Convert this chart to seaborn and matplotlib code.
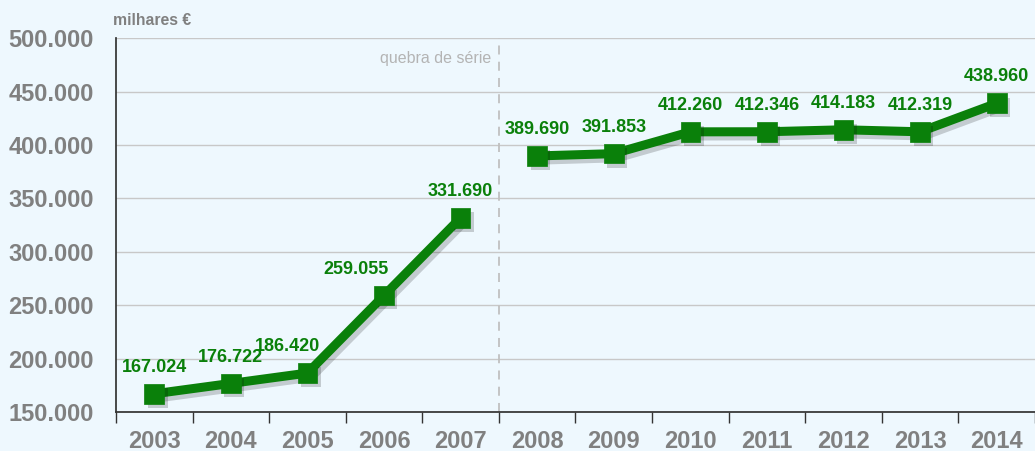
import pandas as pd
import matplotlib.pyplot as plt
import matplotlib.patheffects as pe
from matplotlib.ticker import FixedLocator, FuncFormatter
import seaborn as sns

sns.set_theme(style="white")
plt.rcParams['font.family'] = ['Liberation Sans', 'DejaVu Sans']

# data (milhares de euros)
years = ['2003', '2004', '2005', '2006', '2007', '2008', '2009',
         '2010', '2011', '2012', '2013', '2014']
values = [167.024, 176.722, 186.420, 259.055, 331.690, 389.690, 391.853,
          412.260, 412.346, 414.183, 412.319, 438.960]
series = ['antes'] * 5 + ['depois'] * 7
labels = ['167.024', '176.722', '186.420', '259.055', '331.690', '389.690',
          '391.853', '412.260', '412.346', '414.183', '412.319', '438.960']
yticks = [150000, 200000, 250000, 300000, 350000, 400000, 450000, 500000]

df = pd.DataFrame({'pos': range(len(years)), 'ano': years,
                   'valor': [v * 1000 for v in values], 'serie': series})

green = '#0a800a'
gray = '#808080'
bg = '#eef8fe'

fig = plt.figure(figsize=(10.35, 4.51), dpi=100, facecolor=bg)
ax = fig.add_axes([0.112, 0.0865, 0.888, 0.829])
ax.set_facecolor(bg)

# line with a soft shadow
line_shadow = [pe.SimpleLineShadow(offset=(2.5, -3), shadow_color='black', alpha=0.18),
               pe.Normal()]
sns.lineplot(data=df, x='pos', y='valor', hue='serie', units='serie',
             estimator=None, palette=[green, green], legend=False,
             linewidth=6.5, ax=ax, path_effects=line_shadow)

# square markers
sns.scatterplot(data=df, x='pos', y='valor', color=green, marker='s',
                s=200, edgecolor=green, linewidth=0.5, zorder=5, ax=ax)
ax.collections[-1].set_path_effects(
    [pe.SimplePatchShadow(offset=(2.5, -3), shadow_rgbFace='black', alpha=0.18),
     pe.Normal()])

# data labels
offsets = {2: (-14, 0), 3: (-20, 0)}
for i, (v, lab) in enumerate(zip(df['valor'], labels)):
    dx, dy = offsets.get(i, (0, 0))
    ax.annotate(lab, (i, v), xytext=(dx, 19 + dy), textcoords='offset points',
                ha='center', va='center', color=green, fontsize=13,
                fontweight='bold')

# break of series
ax.axvline(4.5, color='#c0c0c0', linestyle=(0, (5, 4)), linewidth=1.3, zorder=1)
ax.text(4.4, 481000, 'quebra de série', ha='right', va='center',
        color='#b4b4b4', fontsize=11.5)

ax.set_xlim(-0.5, 11.5)
ax.set_ylim(150000, 500000)
ax.yaxis.set_major_locator(FixedLocator(yticks))
ax.yaxis.set_major_formatter(FuncFormatter(lambda v, p: f'{int(v):,}'.replace(',', '.')))
ax.set_xticks(range(len(years)))
ax.set_xticklabels(years)
ax.set_xticks([i - 0.5 for i in range(len(years) + 1)], minor=True)
ax.tick_params(axis='x', which='major', length=0, pad=13, labelsize=17,
               labelcolor=gray)
ax.tick_params(axis='x', which='minor', length=8, width=1, color='#333333',
               direction='out', bottom=True)
ax.tick_params(axis='y', length=0, pad=16, labelsize=17, labelcolor=gray)
for t in ax.get_xticklabels() + ax.get_yticklabels():
    t.set_fontweight('bold')

ax.grid(axis='y', color='#c8c8c8', linewidth=1)
ax.set_axisbelow(True)
for s in ['top', 'right']:
    ax.spines[s].set_visible(False)
ax.spines['left'].set_color('#333333')
ax.spines['bottom'].set_color('#333333')
ax.set_xlabel('')
ax.set_ylabel('')

fig.text(0.109, 0.955, 'milhares €', ha='left', va='center', color=gray,
         fontsize=11.3, fontweight='bold')

fig.savefig('out.png', dpi=100, facecolor=bg)
